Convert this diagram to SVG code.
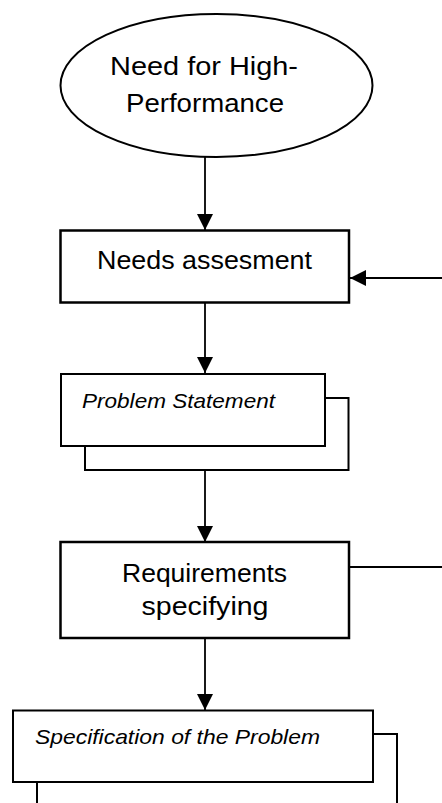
<svg xmlns="http://www.w3.org/2000/svg" width="442" height="803" viewBox="0 0 442 803">
  <style>
    .shape { fill: #ffffff; stroke: #000000; }
    .box { stroke-width: 2.5; }
    .doc { stroke-width: 2; }
    .edge { fill: none; stroke: #000000; stroke-width: 1.8; }
    .label { font-family: "Comic Sans MS", "Liberation Sans", "DejaVu Sans", sans-serif; fill: #000000; }
    .main { font-size: 26px; text-anchor: middle; }
    .note { font-size: 21px; font-style: italic; }
  </style>
  <defs>
    <marker id="arrow" markerUnits="userSpaceOnUse" markerWidth="16" markerHeight="16" refX="16" refY="8" orient="auto">
      <path d="M0,0 L16,8 L0,16 Z" fill="#000000"/>
    </marker>
  </defs>

  <!-- flow connectors -->
  <g id="connectors">
    <line class="edge" x1="205" y1="157" x2="205" y2="230" marker-end="url(#arrow)"/>
    <line class="edge" x1="442" y1="278" x2="350" y2="278" marker-end="url(#arrow)"/>
    <line class="edge" x1="205" y1="303" x2="205" y2="373" marker-end="url(#arrow)"/>
    <line class="edge" x1="205" y1="470" x2="205" y2="542" marker-end="url(#arrow)"/>
    <line class="edge" x1="349" y1="567" x2="442" y2="567"/>
    <line class="edge" x1="205" y1="638" x2="205" y2="710" marker-end="url(#arrow)"/>
  </g>

  <!-- start: need -->
  <g id="need">
    <ellipse class="shape" cx="216.5" cy="85.5" rx="156" ry="71.5" stroke-width="2"/>
    <text class="label main" x="204" y="75" font-size="25" textLength="188" lengthAdjust="spacingAndGlyphs">Need for High-</text>
    <text class="label main" x="205" y="112" font-size="25" textLength="158" lengthAdjust="spacingAndGlyphs">Performance</text>
  </g>

  <!-- process: needs assessment -->
  <g id="needs-assessment">
    <rect class="shape box" x="60.5" y="230.5" width="288.5" height="72"/>
    <text class="label main" x="204.5" y="269" textLength="215" lengthAdjust="spacingAndGlyphs">Needs assesment</text>
  </g>

  <!-- document: problem statement -->
  <g id="problem-statement">
    <rect class="shape doc" x="85" y="398" width="263.5" height="72"/>
    <rect class="shape doc" x="61" y="374" width="264" height="72"/>
    <text class="label note" x="82" y="408" textLength="193" lengthAdjust="spacingAndGlyphs">Problem Statement</text>
  </g>

  <!-- process: requirements -->
  <g id="requirements">
    <rect class="shape box" x="60.5" y="542" width="288.5" height="96"/>
    <text class="label main" x="204.5" y="581.5" textLength="165" lengthAdjust="spacingAndGlyphs">Requirements</text>
    <text class="label main" x="205" y="615" textLength="127" lengthAdjust="spacingAndGlyphs">specifying</text>
  </g>

  <!-- document: specification -->
  <g id="specification">
    <rect class="shape doc" x="37" y="734" width="360" height="100"/>
    <rect class="shape doc" x="13" y="710.5" width="360" height="71.5"/>
    <text class="label note" x="35" y="744" font-size="22" textLength="285" lengthAdjust="spacingAndGlyphs">Specification of the Problem</text>
  </g>
</svg>
